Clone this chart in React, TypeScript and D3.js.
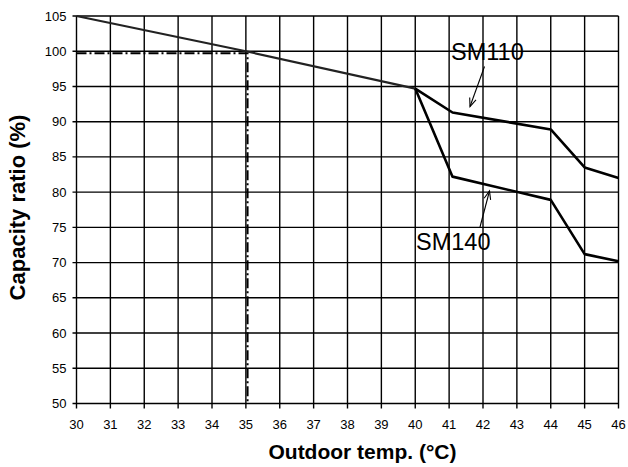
import React from "react";
import * as d3 from "d3";

const xTicks = [30, 31, 32, 33, 34, 35, 36, 37, 38, 39, 40, 41, 42, 43, 44, 45, 46];
const yTicks = [50, 55, 60, 65, 70, 75, 80, 85, 90, 95, 100, 105];
const commonX = [30, 35, 40];
const commonY = [105, 100, 94.7];
const sm110X = [40, 41.1, 44, 45, 46];
const sm110Y = [94.7, 91.3, 88.9, 83.5, 82.0];
const sm140X = [40, 41.1, 44, 45, 46];
const sm140Y = [94.7, 82.2, 78.9, 71.2, 70.2];
const refX = 35.05;
const refY = 99.7;

const W = 628, H = 467;
const L = 76.5, R = 618.5, T = 16, B = 403.5;

export default function App() {
  const x = d3.scaleLinear().domain([30, 46]).range([L, R]);
  const y = d3.scaleLinear().domain([50, 105]).range([B, T]);
  const line = d3.line<[number, number]>().x(d => x(d[0])).y(d => y(d[1]));
  const zip = (a: number[], b: number[]) => a.map((v, i) => [v, b[i]] as [number, number]);
  const font = "'Liberation Sans', Arial, sans-serif";

  const arrow = (x1: number, y1: number, x2: number, y2: number) => {
    const ang = Math.atan2(y2 - y1, x2 - x1);
    const len = 9, spread = 0.38;
    const a1 = [x2 - len * Math.cos(ang - spread), y2 - len * Math.sin(ang - spread)];
    const a2 = [x2 - len * Math.cos(ang + spread), y2 - len * Math.sin(ang + spread)];
    return (
      <g stroke="#000" strokeWidth={1.1} fill="none">
        <line x1={x1} y1={y1} x2={x2} y2={y2} />
        <polyline points={`${a1[0]},${a1[1]} ${x2},${y2} ${a2[0]},${a2[1]}`} />
      </g>
    );
  };

  return (
    <svg width={W} height={H} style={{ position: "absolute", left: 0, top: 0 }}>
      <rect width={W} height={H} fill="#fff" />
      {xTicks.map(t => (
        <line key={"gx" + t} x1={x(t)} x2={x(t)} y1={T} y2={B + 5} stroke="#000" strokeWidth={1.4} />
      ))}
      {yTicks.map(t => (
        <line key={"gy" + t} x1={L - 4} x2={R} y1={y(t)} y2={y(t)} stroke="#000" strokeWidth={1.4} />
      ))}
      {xTicks.map(t => (
        <text key={"tx" + t} x={x(t)} y={B + 25.5} textAnchor="middle" fontFamily={font} fontSize={13} fill="#000">{t}</text>
      ))}
      {yTicks.map(t => (
        <text key={"ty" + t} x={66.5} y={y(t) + 4.5} textAnchor="end" fontFamily={font} fontSize={13} fill="#000">{t}</text>
      ))}
      <path d={`M${x(30)},${y(refY)}H${x(refX)}V${y(50)}`} fill="none" stroke="#000" strokeWidth={2} strokeDasharray="10,3,2,3" />
      <path d={line(zip(commonX, commonY)) || ""} fill="none" stroke="#222" strokeWidth={2.2} />
      <path d={line(zip(sm110X, sm110Y)) || ""} fill="none" stroke="#000" strokeWidth={2.6} strokeLinejoin="round" />
      <path d={line(zip(sm140X, sm140Y)) || ""} fill="none" stroke="#000" strokeWidth={2.6} strokeLinejoin="round" />
      <text x={451} y={60} fontFamily={font} fontSize={23.5} fill="#000">SM110</text>
      {arrow(484.5, 66.5, 470, 106.5)}
      <text x={416} y={249.5} fontFamily={font} fontSize={23.5} fill="#000">SM140</text>
      {arrow(480, 227, 489.5, 191)}
      <text x={362.5} y={459} textAnchor="middle" fontFamily={font} fontSize={21} fontWeight="bold" fill="#000">Outdoor temp. (°C)</text>
      <text transform={`translate(25,207.5) rotate(-90)`} textAnchor="middle" fontFamily={font} fontSize={22} fontWeight="bold" fill="#000">Capacity ratio (%)</text>
    </svg>
  );
}
